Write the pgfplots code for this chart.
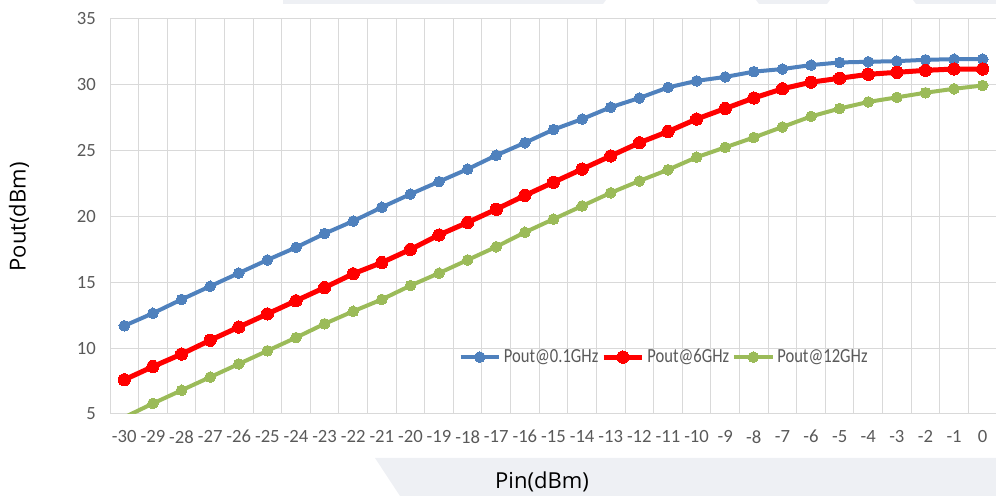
\documentclass[border=0pt]{standalone}
\usepackage{fontspec}
\setmainfont{Carlito}
\newfontfamily\titlefont{Open Sans}
\newfontfamily\legendfont[FakeStretch=0.83]{Carlito}
\usepackage{pgfplots}
\pgfplotsset{compat=1.18}

\definecolor{xlblue}{HTML}{4F81BD}
\definecolor{xlred}{HTML}{FF0000}
\definecolor{xlgreen}{HTML}{9BBB59}
\definecolor{gridgray}{HTML}{D9D9D9}
\definecolor{ticktext}{HTML}{595959}
\definecolor{pagegray}{HTML}{EEF0F4}

\begin{document}
\begin{tikzpicture}
% page size 996 x 496 px, 1 px = 0.75pt
\path[use as bounding box] (0pt,0pt) rectangle (747pt,372pt);
\begin{scope}[x=0.75pt,y=0.75pt]
\fill[pagegray] (375,38) -- (996,38) -- (996,0) -- (400,0) -- cycle;
\fill[pagegray] (283,496) -- (606,496) -- (603,492) -- (283,492) -- cycle;
\fill[pagegray] (756,496) -- (830,496) -- (827,492) -- (759,492) -- cycle;
\fill[pagegray] (913,496) -- (996,496) -- (996,492) -- (916,492) -- cycle;
\end{scope}

\begin{axis}[
    at={(82.5pt,61.5pt)}, anchor=south west,
    scale only axis,
    width=665.25pt, height=296.25pt,
    xmin=-30.5, xmax=0.5,
    ymin=5, ymax=35,
    xtick={-30,-29,...,0},
    minor xtick={-30.5,-29.5,...,0.5},
    ytick={5,10,...,35},
    major tick length=0pt, minor tick length=0pt,
    xminorgrids=true, ymajorgrids=true,
    minor grid style={gridgray, line width=0.75pt},
    major grid style={gridgray, line width=0.75pt},
    axis line style={draw=none},
    /pgf/number format/assume math mode=true,
    ticklabel style={font=\fontsize{14}{16}\selectfont, text=ticktext, inner sep=0pt},
    xticklabel style={anchor=north, yshift=-12pt},
    yticklabel style={anchor=east, xshift=-10.5pt},
    legend style={at={(0.625,0.144)}, anchor=center, draw=none, fill=none,
        font=\legendfont\fontsize{15}{17}\selectfont, text=ticktext,
        inner sep=0pt, nodes={inner xsep=2pt, inner ysep=0pt},
        /tikz/every even column/.append style={column sep=0pt}},
    legend columns=3,
    legend image code/.code={
        \draw[mark repeat=2, mark phase=2, #1]
            plot coordinates {(0pt,0pt) (14.5pt,0pt) (29pt,0pt)};},
]

\addplot[xlblue, line width=3pt, mark=*, mark size=4pt,
    mark options={solid, fill=xlblue, draw=xlblue, line width=0pt}]
    coordinates {
    (-30,11.7)(-29,12.65)(-28,13.7)(-27,14.7)(-26,15.7)(-25,16.7)
    (-24,17.65)(-23,18.7)(-22,19.65)(-21,20.7)(-20,21.7)(-19,22.65)
    (-18,23.6)(-17,24.65)(-16,25.6)(-15,26.6)(-14,27.4)(-13,28.3)
    (-12,29.0)(-11,29.8)(-10,30.3)(-9,30.6)(-8,31.0)(-7,31.2)
    (-6,31.5)(-5,31.7)(-4,31.75)(-3,31.8)(-2,31.9)(-1,31.95)(0,31.95)
    };
\addlegendentry{Pout@0.1GHz}

\addplot[xlred, line width=3.75pt, mark=*, mark size=4.6pt,
    mark options={solid, fill=xlred, draw=xlred, line width=0pt}]
    coordinates {
    (-30,7.6)(-29,8.6)(-28,9.55)(-27,10.6)(-26,11.6)(-25,12.6)
    (-24,13.6)(-23,14.6)(-22,15.65)(-21,16.5)(-20,17.5)(-19,18.6)
    (-18,19.55)(-17,20.55)(-16,21.6)(-15,22.6)(-14,23.6)(-13,24.6)
    (-12,25.6)(-11,26.45)(-10,27.4)(-9,28.2)(-8,29.0)(-7,29.7)
    (-6,30.2)(-5,30.5)(-4,30.8)(-3,30.95)(-2,31.1)(-1,31.2)(0,31.2)
    };
\addlegendentry{Pout@6GHz}

\addplot[xlgreen, line width=3pt, mark=*, mark size=4pt,
    mark options={solid, fill=xlgreen, draw=xlgreen, line width=0pt}]
    coordinates {
    (-30,4.75)(-29,5.8)(-28,6.8)(-27,7.8)(-26,8.8)(-25,9.8)
    (-24,10.8)(-23,11.85)(-22,12.8)(-21,13.7)(-20,14.75)(-19,15.7)
    (-18,16.7)(-17,17.7)(-16,18.8)(-15,19.8)(-14,20.8)(-13,21.8)
    (-12,22.7)(-11,23.55)(-10,24.5)(-9,25.25)(-8,26.0)(-7,26.8)
    (-6,27.6)(-5,28.2)(-4,28.7)(-3,29.05)(-2,29.4)(-1,29.7)(0,29.95)
    };
\addlegendentry{Pout@12GHz}

\end{axis}

\node[font=\titlefont\fontsize{16.5}{19}\selectfont, rotate=90] at (14.25pt,209.25pt) {Pout(dBm)};
\node[font=\titlefont\fontsize{16.5}{19}\selectfont] at (406.5pt,10.5pt) {Pin(dBm)};
\end{tikzpicture}
\end{document}
